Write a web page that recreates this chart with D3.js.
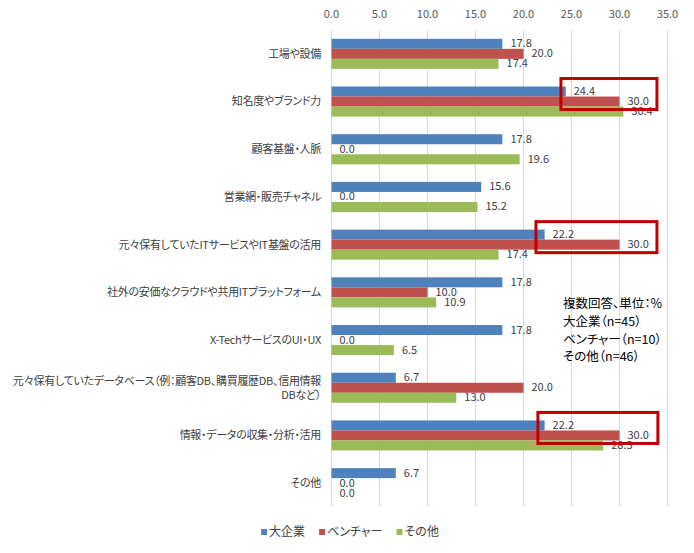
<!DOCTYPE html>
<html>
<head>
<meta charset="utf-8">
<script src="https://cdn.jsdelivr.net/npm/d3@7"></script>
<style>
  body { margin: 0; background: #fff; }
  svg { font-family: "Noto Sans CJK JP", "Noto Sans", sans-serif; font-feature-settings: "palt"; }
</style>
</head>
<body>
<div id="chart"></div>
<script>
// categories top to bottom
var categories = [
  "工場や設備",
  "知名度やブランド力",
  "顧客基盤・人脈",
  "営業網・販売チャネル",
  "元々保有していたITサービスやIT基盤の活用",
  "社外の安価なクラウドや共用ITプラットフォーム",
  "X-TechサービスのUI・UX",
  "元々保有していたデータベース（例：顧客DB、購買履歴DB、信用情報DBなど）",
  "情報・データの収集・分析・活用",
  "その他"
];
var seriesNames = ["大企業", "ベンチャー", "その他"];
var largeCorp = [17.8, 24.4, 17.8, 15.6, 22.2, 17.8, 17.8, 6.7, 22.2, 6.7];
var venture   = [20.0, 30.0, 0.0, 0.0, 30.0, 10.0, 0.0, 20.0, 30.0, 0.0];
var others    = [17.4, 30.4, 19.6, 15.2, 17.4, 10.9, 6.5, 13.0, 28.3, 0.0];
var xTicks = [0, 5, 10, 15, 20, 25, 30, 35];
var noteLines = ["複数回答、単位：%", "大企業（n=45）", "ベンチャー（n=10）", "その他（n=46）"];
// highlighted categories and the value span of each red box
var highlightCats = ["知名度やブランド力", "元々保有していたITサービスやIT基盤の活用", "情報・データの収集・分析・活用"];
var highlightFrom = [23.9, 21.3, 21.5];
var highlightTo = [33.9, 33.9, 34.0];

var colors = ["#4f81bd", "#c0504d", "#9bbb59"];
var width = 694, height = 553;

var svg = d3.select("#chart").append("svg")
  .attr("width", width).attr("height", height);

var x = d3.scaleLinear().domain([0, 35]).range([331.5, 667.5]);
var y = d3.scaleBand().domain(categories).range([30, 507])
  .paddingInner(0.37).paddingOuter(0.185);
var ySub = d3.scaleBand().domain(seriesNames).range([0, y.bandwidth()]);

var table = categories.map(function (c, i) {
  return { cat: c, values: [largeCorp[i], venture[i], others[i]] };
});

// grid lines
svg.append("g").selectAll("line").data(xTicks).enter().append("line")
  .attr("x1", function (d) { return x(d); })
  .attr("x2", function (d) { return x(d); })
  .attr("y1", 30).attr("y2", 507)
  .attr("stroke", "#d9d9d9").attr("stroke-width", 1);

// tick labels on top
svg.append("g").selectAll("text").data(xTicks).enter().append("text")
  .attr("x", function (d) { return x(d); })
  .attr("y", 14)
  .attr("dy", "0.35em")
  .attr("text-anchor", "middle")
  .attr("font-size", 11)
  .attr("fill", "#595959")
  .text(function (d) { return d3.format(".1f")(d); });

// bars
var groups = svg.append("g").selectAll("g").data(table).enter().append("g")
  .attr("transform", function (d) { return "translate(0," + y(d.cat) + ")"; });

groups.selectAll("rect").data(function (d) { return d.values; }).enter().append("rect")
  .attr("x", x(0))
  .attr("y", function (d, i) { return ySub(seriesNames[i]); })
  .attr("width", function (d) { return x(d) - x(0); })
  .attr("height", ySub.bandwidth())
  .attr("fill", function (d, i) { return colors[i]; });

groups.selectAll("text").data(function (d) { return d.values; }).enter().append("text")
  .attr("x", function (d) { return x(d) + 8; })
  .attr("y", function (d, i) { return ySub(seriesNames[i]) + ySub.bandwidth() / 2; })
  .attr("dy", "0.32em")
  .attr("font-size", 11)
  .attr("fill", "#404040")
  .text(function (d) { return d3.format(".1f")(d); });

// category labels, wrapped when too wide (latin runs kept together)
var catLabels = svg.append("g").selectAll("text").data(categories).enter().append("text")
  .attr("text-anchor", "end")
  .attr("font-size", 11)
  .attr("letter-spacing", -0.3)
  .attr("fill", "#404040");

catLabels.each(function (d) {
  var t = d3.select(this);
  var maxW = 316;
  var tokens = d.match(/[A-Za-z0-9\-]+|./g);
  var lines = [];
  var cur = "";
  var probe = t.append("tspan");
  tokens.forEach(function (tok) {
    probe.text(cur + tok);
    if (probe.node().getComputedTextLength() > maxW && cur.length) {
      lines.push(cur);
      cur = tok;
    } else {
      cur += tok;
    }
  });
  lines.push(cur);
  probe.remove();
  var cy = y(d) + y.bandwidth() / 2;
  var lh = 14;
  lines.forEach(function (ln, j) {
    t.append("tspan")
      .attr("x", 321)
      .attr("y", cy + (j - (lines.length - 1) / 2) * lh)
      .attr("dy", "0.35em")
      .text(ln);
  });
});

// red highlight boxes
svg.append("g").selectAll("rect").data(highlightCats).enter().append("rect")
  .attr("x", function (d, i) { return x(highlightFrom[i]); })
  .attr("y", function (d) { return y(d) - 8; })
  .attr("width", function (d, i) { return x(highlightTo[i]) - x(highlightFrom[i]); })
  .attr("height", function (d) { return ySub.bandwidth() * 2 + 11; })
  .attr("fill", "none")
  .attr("stroke", "#c00000")
  .attr("stroke-width", 3);

// note
svg.append("g").selectAll("text").data(noteLines).enter().append("text")
  .attr("x", 563)
  .attr("y", function (d, i) { return 304 + i * 17.6; })
  .attr("dy", "0.35em")
  .attr("font-size", 12.5)
  .attr("fill", "#000")
  .text(function (d) { return d; });

// legend
var legend = svg.append("g");
var lx = 0;
seriesNames.forEach(function (s, i) {
  var item = legend.append("g").attr("transform", "translate(" + lx + ",0)");
  item.append("rect").attr("x", 0).attr("y", -3).attr("width", 6).attr("height", 6)
    .attr("fill", colors[i]);
  var t = item.append("text").attr("x", 8).attr("y", 0).attr("dy", "0.35em")
    .attr("font-size", 12).attr("fill", "#404040").text(s);
  lx += 8 + t.node().getComputedTextLength() + 14;
});
var legW = lx - 14;
legend.attr("transform", "translate(" + (350 - legW / 2) + ",532)");
</script>
</body>
</html>
